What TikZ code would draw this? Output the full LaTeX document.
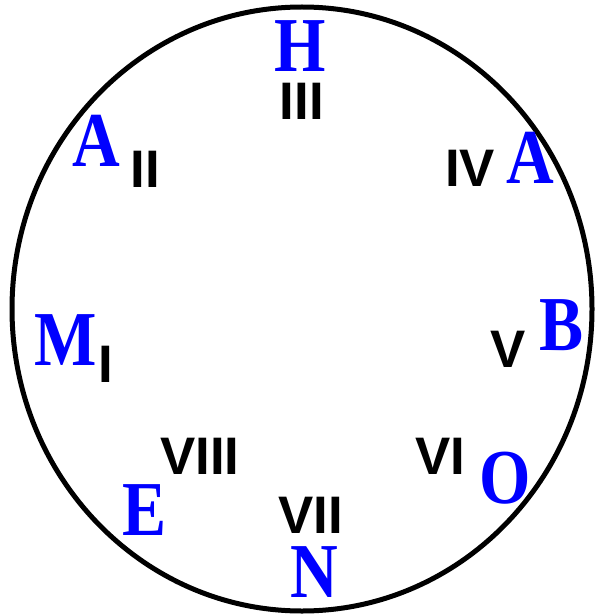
\documentclass[tikz,border=0pt]{standalone}
\usepackage{fontspec}
\setmainfont{Liberation Serif}
\newfontfamily\betufont[FakeStretch=0.85]{Liberation Serif}
\newfontfamily\szamfont{Liberation Sans}
\usetikzlibrary{positioning}
\tikzset{
  betu/.style={inner sep=0pt,text=blue,font=\betufont\bfseries\fontsize{78}{78}\selectfont},
  szam/.style={inner sep=0pt,text=black,font=\szamfont\bfseries\fontsize{53}{53}\selectfont},
  lap/.style={line width=5bp,draw=black},
}

\begin{document}
\begin{tikzpicture}[x=1bp,y=-1bp]
  \useasboundingbox (0,0) rectangle (596,614);
  \draw[lap] (302,309) ellipse [x radius=290,y radius=302];
  % betuk
  \node[betu] (h)  at (300,46)  {H};
  \node[betu] (a1) at (96,141)  {A};
  \node[betu] (a2) at (530,158) {A};
  \node[betu] (m)  at (66,340)  {M};
  \node[betu] (b)  at (562,325) {B};
  \node[betu] (e)  at (145,510) {E};
  \node[betu] (o)  at (505,478) {O};
  \node[betu] (n)  at (314,572) {N};
  % szamok
  \node[szam] (n3) at (302,101) {III};
  \node[szam] (n2) at (145,169) {II};
  \node[szam] (n4) at (470,168) {IV};
  \node[szam] (n1) at (106,364) {I};
  \node[szam] (n5) at (508,349) {V};
  \node[szam] (n8) at (200,456) {VIII};
  \node[szam] (n6) at (440,456) {VI};
  \node[szam] (n7) at (311,515) {VII};
\end{tikzpicture}
\end{document}
